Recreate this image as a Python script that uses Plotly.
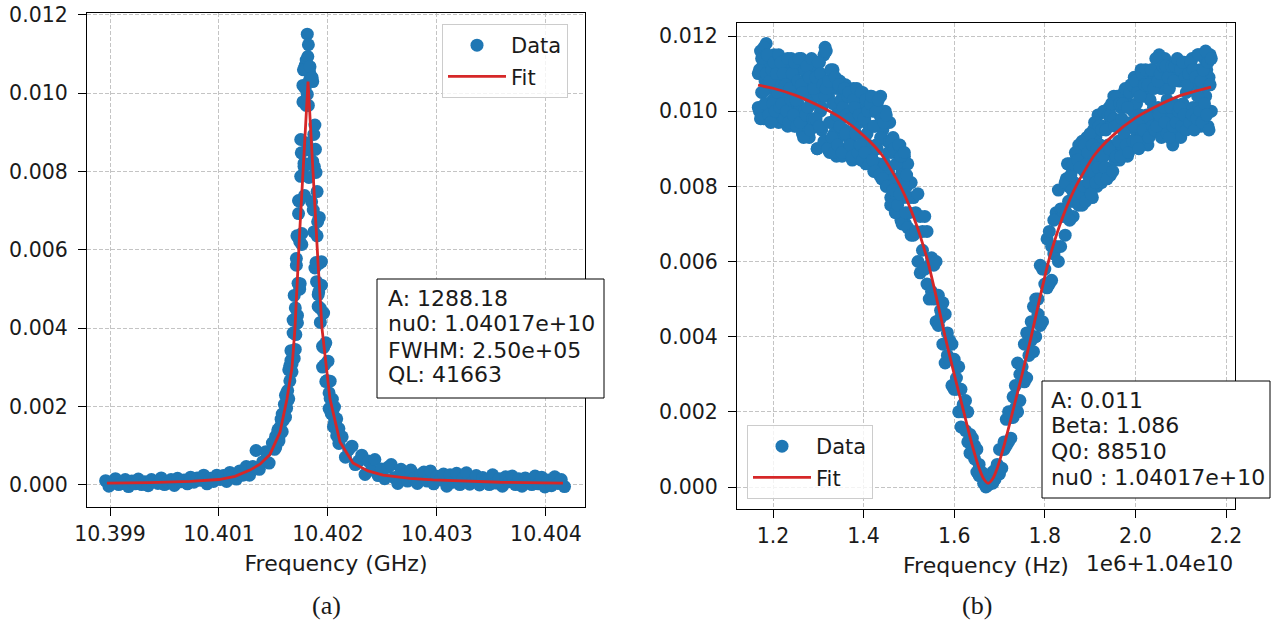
import plotly.graph_objects as go

# ---------------- panel (a): transmission peak, frequency in GHz ----------------
# coarse sweep below the resonance
freq_a_low = [
    10.39946, 10.39949, 10.39952, 10.39955, 10.39958, 10.39961, 10.39964, 10.39967, 10.39970, 10.39973,
    10.39976, 10.39979, 10.39982, 10.39985, 10.39988, 10.39991, 10.39994, 10.39997, 10.40000, 10.40003,
    10.40006, 10.40009, 10.40012, 10.40015, 10.40018, 10.40021, 10.40024, 10.40027, 10.40030, 10.40033,
    10.40036, 10.40039, 10.40042, 10.40045, 10.40048, 10.40051, 10.40054, 10.40057, 10.40060, 10.40063,
    10.40066, 10.40069, 10.40072, 10.40075, 10.40078, 10.40081, 10.40084, 10.40087, 10.40090, 10.40093,
    10.40096, 10.40099,
]
amp_a_low = [
    0.00011, -0.00003, 0.00008, 0.00016, 0.00001, 0.00004, 0.00014, -0.00004, 0.00010, 0.00003,
    0.00015, 0.00001, 0.00008, -0.00002, 0.00014, 0.00009, 0.00004, 0.00018, 0.00001, 0.00008,
    0.00014, -0.00001, 0.00017, 0.00008, 0.00013, 0.00003, 0.00020, 0.00007, 0.00018, 0.00012,
    0.00025, 0.00003, 0.00017, 0.00009, 0.00025, 0.00014, 0.00024, 0.00009, 0.00032, 0.00025,
    0.00015, 0.00036, 0.00025, 0.00047, 0.00025, 0.00047, 0.00088, 0.00040, 0.00059, 0.00085,
    0.00056, 0.00107,
]
# fine sweep across the resonance (two passes)
freq_a_peak = [
    10.40101, 10.40102, 10.40103, 10.40104, 10.40105, 10.40106, 10.40107, 10.40108, 10.40109, 10.40110,
    10.40111, 10.40112, 10.40113, 10.40114, 10.40115, 10.40116, 10.40117, 10.40118, 10.40119, 10.40120,
    10.40121, 10.40122, 10.40123, 10.40124, 10.40125, 10.40126, 10.40127, 10.40128, 10.40129, 10.40130,
    10.40131, 10.40132, 10.40133, 10.40134, 10.40135, 10.40136, 10.40137, 10.40138, 10.40139, 10.40140,
    10.40141, 10.40142, 10.40143, 10.40144, 10.40145, 10.40146, 10.40147, 10.40148, 10.40149, 10.40150,
    10.40151, 10.40152, 10.40153, 10.40154, 10.40155, 10.40156, 10.40157, 10.40158, 10.40159, 10.40160,
]
amp_a_peak_pass1 = [
    0.00113, 0.00096, 0.00122, 0.00141, 0.00121, 0.00141, 0.00168, 0.00136, 0.00182, 0.00179,
    0.00229, 0.00196, 0.00241, 0.00220, 0.00305, 0.00318, 0.00309, 0.00421, 0.00323, 0.00452,
    0.00561, 0.00414, 0.00726, 0.00622, 0.00788, 0.00614, 0.01020, 0.00813, 0.01071, 0.00969,
    0.01151, 0.01124, 0.01054, 0.00855, 0.01040, 0.00826, 0.00895, 0.00554, 0.00798, 0.00636,
    0.00456, 0.00566, 0.00415, 0.00510, 0.00301, 0.00351, 0.00358, 0.00264, 0.00266, 0.00265,
    0.00195, 0.00221, 0.00182, 0.00197, 0.00149, 0.00160, 0.00162, 0.00126, 0.00137, 0.00106,
]
amp_a_peak_pass2 = [
    0.00091, 0.00124, 0.00109, 0.00134, 0.00112, 0.00148, 0.00135, 0.00181, 0.00165, 0.00206,
    0.00173, 0.00235, 0.00215, 0.00294, 0.00266, 0.00343, 0.00289, 0.00388, 0.00484, 0.00346,
    0.00578, 0.00433, 0.00693, 0.00500, 0.00882, 0.00642, 0.00978, 0.00821, 0.01013, 0.01085,
    0.00997, 0.00969, 0.01033, 0.01045, 0.00723, 0.01030, 0.00646, 0.00919, 0.00568, 0.00749,
    0.00486, 0.00683, 0.00451, 0.00570, 0.00354, 0.00439, 0.00307, 0.00363, 0.00266, 0.00316,
    0.00235, 0.00265, 0.00197, 0.00219, 0.00177, 0.00199, 0.00144, 0.00169, 0.00133, 0.00144,
]
# extra points between the fine-sweep steps at the top of the peak
freq_a_peak_mid = [
    10.401205, 10.401215, 10.401225, 10.401235, 10.401245, 10.401255, 10.401265, 10.401275, 10.401285, 10.401295,
    10.401305, 10.401315, 10.401325, 10.401335, 10.401345, 10.401355, 10.401365, 10.401375, 10.401385, 10.401395,
    10.401405, 10.401415,
]
amp_a_peak_mid = [
    0.00384, 0.00636, 0.00515, 0.00725, 0.00514, 0.00848, 0.00790, 0.01060, 0.00739, 0.01060,
    0.00873, 0.01094, 0.00785, 0.01068, 0.00853, 0.01040, 0.00702, 0.00813, 0.00857, 0.00519,
    0.00672, 0.00493,
]
# coarse sweep above the resonance
freq_a_high = [
    10.40163, 10.40166, 10.40169, 10.40172, 10.40175, 10.40178, 10.40181, 10.40184, 10.40187, 10.40190,
    10.40193, 10.40196, 10.40199, 10.40202, 10.40205, 10.40208, 10.40211, 10.40214, 10.40217, 10.40220,
    10.40223, 10.40226, 10.40229, 10.40232, 10.40235, 10.40238, 10.40241, 10.40244, 10.40247, 10.40250,
    10.40253, 10.40256, 10.40259, 10.40262, 10.40265, 10.40268, 10.40271, 10.40274, 10.40277, 10.40280,
    10.40283, 10.40286, 10.40289, 10.40292, 10.40295, 10.40298, 10.40301, 10.40304, 10.40307, 10.40310,
    10.40313, 10.40316, 10.40319, 10.40322, 10.40325, 10.40328, 10.40331, 10.40334, 10.40337, 10.40340,
    10.40343, 10.40346, 10.40349, 10.40352, 10.40355, 10.40358, 10.40361, 10.40364, 10.40367,
]
amp_a_high = [
    0.00123, 0.00071, 0.00090, 0.00099, 0.00052, 0.00061, 0.00076, 0.00027, 0.00061, 0.00038,
    0.00065, 0.00024, 0.00041, 0.00016, 0.00045, 0.00052, 0.00019, 0.00004, 0.00040, 0.00026,
    0.00010, 0.00038, 0.00017, 0.00004, 0.00027, 0.00033, 0.00010, 0.00036, 0.00003, 0.00022,
    0.00014, 0.00028, -0.00003, 0.00026, 0.00007, 0.00030, 0.00001, 0.00017, 0.00031, 0.00002,
    0.00008, 0.00024, 0.00000, 0.00019, 0.00012, 0.00001, 0.00026, 0.00005, 0.00016, -0.00003,
    0.00021, 0.00008, 0.00023, 0.00001, 0.00016, -0.00003, 0.00018, 0.00011, 0.00001, 0.00023,
    0.00003, 0.00020, -0.00005, 0.00013, -0.00002, 0.00021, 0.00004, 0.00014, -0.00004,
]
fit_a_freq_ghz = [
    10.399472, 10.399867, 10.400234, 10.400500, 10.400647, 10.400784, 10.400876, 10.400968,
    10.401060, 10.401124, 10.401170, 10.401197, 10.401243, 10.401317, 10.401408, 10.401445,
    10.401518, 10.401610, 10.401729, 10.401867, 10.402005, 10.402252, 10.402463, 10.403078,
    10.403656,
]
fit_a_amp = [
    0.00005, 0.00006, 0.00009, 0.00014, 0.00022, 0.00038, 0.00053, 0.00078,
    0.00135, 0.00220, 0.00300, 0.00400, 0.00660, 0.01030, 0.00570, 0.00400,
    0.00220, 0.00110, 0.00056, 0.00036, 0.00025, 0.00017, 0.00013, 0.00007,
    0.00005,
]
tick_a_vals = [10.3995, 10.4005, 10.4015, 10.4025, 10.4035]
tick_a_text = ["10.399", "10.401", "10.402", "10.403", "10.404"]
params_a = ["A: 1288.18", "nu0: 1.04017e+10", "FWHM: 2.50e+05", "QL: 41663"]

# ---------------- panel (b): reflection dip, frequency in MHz above 1.04e10 Hz ----------------
freq_b_mhz = [
    1.1675, 1.1700, 1.1725, 1.1750, 1.1775, 1.1800, 1.1825, 1.1850, 1.1875, 1.1900,
    1.1925, 1.1950, 1.1975, 1.2000, 1.2025, 1.2050, 1.2075, 1.2100, 1.2125, 1.2150,
    1.2175, 1.2200, 1.2225, 1.2250, 1.2275, 1.2300, 1.2325, 1.2350, 1.2375, 1.2400,
    1.2425, 1.2450, 1.2475, 1.2500, 1.2525, 1.2550, 1.2575, 1.2600, 1.2625, 1.2650,
    1.2675, 1.2700, 1.2725, 1.2750, 1.2775, 1.2800, 1.2825, 1.2850, 1.2875, 1.2900,
    1.2925, 1.2950, 1.2975, 1.3000, 1.3025, 1.3050, 1.3075, 1.3100, 1.3125, 1.3150,
    1.3175, 1.3200, 1.3225, 1.3250, 1.3275, 1.3300, 1.3325, 1.3350, 1.3375, 1.3400,
    1.3425, 1.3450, 1.3475, 1.3500, 1.3525, 1.3550, 1.3575, 1.3600, 1.3625, 1.3650,
    1.3675, 1.3700, 1.3725, 1.3750, 1.3775, 1.3800, 1.3825, 1.3850, 1.3875, 1.3900,
    1.3925, 1.3950, 1.3975, 1.4000, 1.4025, 1.4050, 1.4075, 1.4100, 1.4125, 1.4150,
    1.4175, 1.4200, 1.4225, 1.4250, 1.4275, 1.4300, 1.4325, 1.4350, 1.4375, 1.4400,
    1.4425, 1.4450, 1.4475, 1.4500, 1.4525, 1.4550, 1.4575, 1.4600, 1.4625, 1.4650,
    1.4675, 1.4700, 1.4725, 1.4750, 1.4775, 1.4800, 1.4825, 1.4850, 1.4875, 1.4900,
    1.4925, 1.4950, 1.4975, 1.5000,
    1.505, 1.510, 1.515, 1.520, 1.525, 1.530, 1.535, 1.540, 1.545, 1.550,
    1.555, 1.560, 1.565, 1.570, 1.575, 1.580, 1.585, 1.590, 1.595, 1.600,
    1.605, 1.610, 1.615, 1.620, 1.625, 1.630, 1.635, 1.640, 1.645, 1.650,
    1.655, 1.660, 1.665, 1.670, 1.675, 1.680, 1.685, 1.690, 1.695, 1.700,
    1.705, 1.710, 1.715, 1.720, 1.725, 1.730, 1.735, 1.740, 1.745, 1.750,
    1.755, 1.760, 1.765, 1.770, 1.775, 1.780, 1.785, 1.790, 1.795, 1.800,
    1.805, 1.810, 1.815, 1.820, 1.825, 1.830, 1.835, 1.840, 1.845,
    1.8475, 1.8500, 1.8525, 1.8550, 1.8575, 1.8600, 1.8625, 1.8650, 1.8675, 1.8700,
    1.8725, 1.8750, 1.8775, 1.8800, 1.8825, 1.8850, 1.8875, 1.8900, 1.8925, 1.8950,
    1.8975, 1.9000, 1.9025, 1.9050, 1.9075, 1.9100, 1.9125, 1.9150, 1.9175, 1.9200,
    1.9225, 1.9250, 1.9275, 1.9300, 1.9325, 1.9350, 1.9375, 1.9400, 1.9425, 1.9450,
    1.9475, 1.9500, 1.9525, 1.9550, 1.9575, 1.9600, 1.9625, 1.9650, 1.9675, 1.9700,
    1.9725, 1.9750, 1.9775, 1.9800, 1.9825, 1.9850, 1.9875, 1.9900, 1.9925, 1.9950,
    1.9975, 2.0000, 2.0025, 2.0050, 2.0075, 2.0100, 2.0125, 2.0150, 2.0175, 2.0200,
    2.0225, 2.0250, 2.0275, 2.0300, 2.0325, 2.0350, 2.0375, 2.0400, 2.0425, 2.0450,
    2.0475, 2.0500, 2.0525, 2.0550, 2.0575, 2.0600, 2.0625, 2.0650, 2.0675, 2.0700,
    2.0725, 2.0750, 2.0775, 2.0800, 2.0825, 2.0850, 2.0875, 2.0900, 2.0925, 2.0950,
    2.0975, 2.1000, 2.1025, 2.1050, 2.1075, 2.1100, 2.1125, 2.1150, 2.1175, 2.1200,
    2.1225, 2.1250, 2.1275, 2.1300, 2.1325, 2.1350, 2.1375, 2.1400, 2.1425, 2.1450,
    2.1475, 2.1500, 2.1525, 2.1550, 2.1575, 2.1600, 2.1625, 2.1650, 2.1675,
]
# first sweep over the grid above
amp_b_sweep1 = [
    0.0110, 0.0100, 0.0116, 0.0105, 0.0112, 0.0098, 0.0108, 0.0118, 0.0102, 0.0106,
    0.0112, 0.0098, 0.0110, 0.0103, 0.0115, 0.0100, 0.0106, 0.0113, 0.0097, 0.0108,
    0.0101, 0.0113, 0.0098, 0.0108, 0.0104, 0.0111, 0.0096, 0.0110, 0.0102, 0.0114,
    0.0098, 0.0105, 0.0096, 0.0108, 0.0111, 0.0102, 0.0099, 0.0106, 0.0114, 0.0094,
    0.0108, 0.0100, 0.0113, 0.0096, 0.0104, 0.0093, 0.0110, 0.0102, 0.0106, 0.0097,
    0.0111, 0.0098, 0.0090, 0.0104, 0.0113, 0.0100, 0.0095, 0.0108, 0.0115, 0.0117,
    0.0116, 0.0092, 0.0104, 0.0089, 0.0108, 0.0097, 0.0111, 0.0094, 0.0102, 0.0088,
    0.0106, 0.0093, 0.0108, 0.0098, 0.0088, 0.0103, 0.0095, 0.0107, 0.0090, 0.0100,
    0.0105, 0.0092, 0.0099, 0.0087, 0.0106, 0.0095, 0.0102, 0.0089, 0.0104, 0.0097,
    0.0101, 0.0087, 0.0105, 0.0093, 0.0098, 0.0086, 0.0103, 0.0091, 0.0096, 0.0104,
    0.0088, 0.0100, 0.0084, 0.0096, 0.0091, 0.0102, 0.0086, 0.0099, 0.0104, 0.0082,
    0.0095, 0.0086, 0.0100, 0.0080, 0.0092, 0.0084, 0.0097, 0.0077, 0.0089, 0.0093,
    0.0082, 0.0090, 0.0074, 0.0086, 0.0079, 0.0091, 0.0071, 0.0084, 0.0077, 0.0088,
    0.0070, 0.0080, 0.0086, 0.0073,
    0.0081, 0.0067, 0.0073, 0.0060, 0.0072, 0.0063, 0.0072, 0.0054, 0.0059, 0.0052,
    0.0059, 0.0044, 0.0051, 0.0045, 0.0038, 0.0046, 0.0035, 0.0039, 0.0038, 0.0026,
    0.0029, 0.0020, 0.0026, 0.0020, 0.0023, 0.0012, 0.0014, 0.0010, 0.0011, 0.0004,
    0.0006, 0.00035, 0.0001, 0.0003, 0.00005, 0.00025, 0.0004, 0.0002, 0.0006, 0.00035,
    0.0010, 0.0010, 0.0018, 0.0012, 0.00185, 0.00185, 0.0027, 0.0020, 0.0030, 0.0030,
    0.0028, 0.0041, 0.0035, 0.0044, 0.0048, 0.0040, 0.0050, 0.0043, 0.0058, 0.0054,
    0.0066, 0.0054, 0.0064, 0.0062, 0.0073, 0.0060, 0.0074, 0.0072, 0.0067,
    0.0082, 0.0072, 0.0080, 0.0086, 0.0076, 0.0085, 0.0072, 0.0081, 0.0076, 0.0088,
    0.0080, 0.0091, 0.0076, 0.0086, 0.0075, 0.0089, 0.0084, 0.0080, 0.0093, 0.0083,
    0.0092, 0.0080, 0.0089, 0.0077, 0.0095, 0.0087, 0.0093, 0.0080, 0.0099, 0.0085,
    0.0091, 0.0081, 0.0096, 0.0088, 0.0100, 0.0085, 0.0096, 0.0091, 0.0101, 0.0083,
    0.0097, 0.0089, 0.0104, 0.0087, 0.0097, 0.0091, 0.0102, 0.0087, 0.0101, 0.0096,
    0.0090, 0.0105, 0.0095, 0.0103, 0.0088, 0.0102, 0.0092, 0.0107, 0.0096, 0.0100,
    0.0109, 0.0095, 0.0102, 0.0091, 0.0106, 0.0099, 0.0111, 0.0094, 0.0104, 0.0092,
    0.0096, 0.0109, 0.0091, 0.0106, 0.0103, 0.0095, 0.0111, 0.0101, 0.0109, 0.0095,
    0.0110, 0.0101, 0.0115, 0.0094, 0.0106, 0.0097, 0.0108, 0.0114, 0.0099, 0.0103,
    0.0094, 0.0106, 0.0110, 0.0098, 0.0091, 0.0102, 0.0094, 0.0109, 0.0101, 0.0112,
    0.0108, 0.0093, 0.0110, 0.0102, 0.0113, 0.0096, 0.0105, 0.0111, 0.0099, 0.0107,
    0.0098, 0.0114, 0.0101, 0.0110, 0.0096, 0.0107, 0.0115, 0.0101, 0.0111, 0.0096,
    0.0107, 0.0098, 0.0114, 0.0104, 0.0111, 0.0096, 0.0109, 0.0115, 0.0100,
]
# second sweep over the same grid
amp_b_sweep2 = [
    0.0101, 0.0111, 0.0098, 0.0114, 0.0105, 0.0117, 0.0102, 0.0110, 0.0115, 0.0099,
    0.0108, 0.0097, 0.0111, 0.0102, 0.0113, 0.0100, 0.0110, 0.0105, 0.0115, 0.0101,
    0.0113, 0.0102, 0.0110, 0.0098, 0.0107, 0.0100, 0.0114, 0.0097, 0.0106, 0.0103,
    0.0110, 0.0099, 0.0113, 0.0103, 0.0096, 0.0108, 0.0114, 0.0097, 0.0107, 0.0105,
    0.0093, 0.0111, 0.0099, 0.0112, 0.0101, 0.0109, 0.0095, 0.0114, 0.0098, 0.0106,
    0.0098, 0.0109, 0.0090, 0.0113, 0.0096, 0.0110, 0.0101, 0.0107, 0.0092, 0.0104,
    0.0106, 0.0090, 0.0108, 0.0097, 0.0111, 0.0093, 0.0102, 0.0089, 0.0109, 0.0099,
    0.0091, 0.0107, 0.0096, 0.0103, 0.0089, 0.0101, 0.0106, 0.0094, 0.0099, 0.0104,
    0.0105, 0.0091, 0.0098, 0.0088, 0.0103, 0.0101, 0.0094, 0.0106, 0.0089, 0.0099,
    0.0091, 0.0105, 0.0087, 0.0098, 0.0089, 0.0103, 0.0094, 0.0100, 0.0086, 0.0102,
    0.0104, 0.0087, 0.0096, 0.0084, 0.0100, 0.0090, 0.0103, 0.0083, 0.0093, 0.0098,
    0.0082, 0.0097, 0.0086, 0.0099, 0.0080, 0.0089, 0.0092, 0.0075, 0.0092, 0.0079,
    0.0090, 0.0073, 0.0086, 0.0075, 0.0091, 0.0078, 0.0088, 0.0070, 0.0081, 0.0089,
    0.0073, 0.0083, 0.0069, 0.0077,
    0.0067, 0.0077, 0.0068, 0.0078, 0.0057, 0.0068, 0.0058, 0.0068, 0.0050, 0.0061,
    0.0050, 0.0060, 0.0043, 0.0047, 0.0049, 0.0033, 0.0041, 0.0034, 0.0027, 0.0034,
    0.0026, 0.0032, 0.0016, 0.0022, 0.0015, 0.0020, 0.0009, 0.0013, 0.00075, 0.0010,
    0.0003, 0.0004, 0.00035, 0.0000, 0.0002, 0.00015, 0.0001, 0.00045, 0.0004, 0.0010,
    0.0005, 0.0012, 0.0011, 0.0020, 0.0013, 0.0024, 0.0021, 0.0033, 0.0023, 0.0032,
    0.0038, 0.0029, 0.0041, 0.0039, 0.0036, 0.0050, 0.0046, 0.0059, 0.0044, 0.0058,
    0.0053, 0.0068, 0.0055, 0.0071, 0.0064, 0.0079, 0.0064, 0.0074, 0.0081,
    0.0073, 0.0086, 0.0076, 0.0071, 0.0083, 0.0079, 0.0086, 0.0076, 0.0089, 0.0080,
    0.0087, 0.0075, 0.0085, 0.0078, 0.0092, 0.0080, 0.0091, 0.0076, 0.0086, 0.0089,
    0.0081, 0.0094, 0.0078, 0.0091, 0.0084, 0.0097, 0.0081, 0.0090, 0.0085, 0.0096,
    0.0082, 0.0095, 0.0088, 0.0100, 0.0085, 0.0095, 0.0082, 0.0099, 0.0090, 0.0099,
    0.0102, 0.0084, 0.0098, 0.0096, 0.0088, 0.0104, 0.0092, 0.0102, 0.0088, 0.0098,
    0.0102, 0.0094, 0.0106, 0.0091, 0.0101, 0.0089, 0.0105, 0.0097, 0.0107, 0.0092,
    0.0096, 0.0108, 0.0092, 0.0105, 0.0090, 0.0104, 0.0098, 0.0110, 0.0095, 0.0107,
    0.0111, 0.0099, 0.0107, 0.0093, 0.0098, 0.0111, 0.0096, 0.0106, 0.0095, 0.0114,
    0.0096, 0.0108, 0.0099, 0.0110, 0.0093, 0.0112, 0.0101, 0.0097, 0.0112, 0.0094,
    0.0109, 0.0093, 0.0101, 0.0112, 0.0096, 0.0108, 0.0112, 0.0097, 0.0114, 0.0100,
    0.0101, 0.0111, 0.0096, 0.0113, 0.0099, 0.0109, 0.0095, 0.0107, 0.0110, 0.0097,
    0.0113, 0.0099, 0.0111, 0.0095, 0.0109, 0.0098, 0.0104, 0.0115, 0.0100, 0.0108,
    0.0097, 0.0111, 0.0102, 0.0116, 0.0099, 0.0113, 0.0095, 0.0107, 0.0114,
]
fit_b_freq_mhz = [
    1.167, 1.20, 1.25, 1.30, 1.35, 1.40, 1.44, 1.48, 1.51, 1.54, 1.56, 1.58, 1.60, 1.62,
    1.64, 1.655, 1.665, 1.675, 1.685, 1.695, 1.71, 1.73, 1.75, 1.77, 1.79, 1.81, 1.84,
    1.87, 1.91, 1.95, 2.00, 2.05, 2.10, 2.167,
]
fit_b_amp = [
    0.01069, 0.01061, 0.01042, 0.01015, 0.00982, 0.00935, 0.00884, 0.00803, 0.00720, 0.00608,
    0.00508, 0.00400, 0.00300, 0.00205, 0.00110, 0.00050, 0.00022, 0.00010, 0.00022, 0.00050,
    0.00110, 0.00205, 0.00300, 0.00400, 0.00508, 0.00608, 0.00720, 0.00803, 0.00884, 0.00935,
    0.00982, 0.01015, 0.01042, 0.01064,
]
tick_b_vals = [1.2, 1.4, 1.6, 1.8, 2.0, 2.2]
params_b = ["A: 0.011", "Beta: 1.086", "Q0: 88510", "nu0 : 1.04017e+10"]

amp_ticks = [0.000, 0.002, 0.004, 0.006, 0.008, 0.010, 0.012]

for xs, ys in ((freq_a_low, amp_a_low), (freq_a_peak, amp_a_peak_pass1),
               (freq_a_peak, amp_a_peak_pass2), (freq_a_peak_mid, amp_a_peak_mid),
               (freq_a_high, amp_a_high), (fit_a_freq_ghz, fit_a_amp),
               (freq_b_mhz, amp_b_sweep1), (freq_b_mhz, amp_b_sweep2),
               (fit_b_freq_mhz, fit_b_amp)):
    if len(xs) != len(ys):
        raise ValueError(f"length mismatch: {len(xs)} vs {len(ys)}")

data_a_x = freq_a_low + freq_a_peak + freq_a_peak + freq_a_peak_mid + freq_a_high
data_a_y = amp_a_low + amp_a_peak_pass1 + amp_a_peak_pass2 + amp_a_peak_mid + amp_a_high
data_b_x = freq_b_mhz + freq_b_mhz
data_b_y = amp_b_sweep1 + amp_b_sweep2

# ---------------- styling ----------------
W, H = 1271, 626
BLUE = "#1f77b4"
RED = "#d62728"
INK = "#1a1a1a"
SANS = "DejaVu Sans"
MARKER = 13


def px_x(p):
    return p / W


def px_y(p):
    return 1 - p / H


axis_style = dict(
    showline=True, mirror=True, linecolor="#000000", linewidth=1.2,
    ticks="outside", ticklen=8, tickwidth=1.2, tickcolor="#000000",
    showgrid=True, gridcolor="#c4c4c4", gridwidth=0.8, griddash="4px,2px",
    zeroline=False, automargin=False,
    tickfont=dict(family=SANS, size=20.5, color=INK),
)
title_font = dict(family=SANS, size=22, color=INK)

fig = go.Figure()

fig.add_trace(go.Scatter(
    x=data_a_x, y=data_a_y, mode="markers", name="Data",
    marker=dict(color=BLUE, size=MARKER, line=dict(width=0)),
    xaxis="x", yaxis="y", legend="legend", legendgroup="a1",
))
fig.add_trace(go.Scatter(
    x=fit_a_freq_ghz, y=fit_a_amp, mode="lines", name="Fit",
    line=dict(color=RED, width=2.8),
    xaxis="x", yaxis="y", legend="legend", legendgroup="a2",
))
fig.add_trace(go.Scatter(
    x=data_b_x, y=data_b_y, mode="markers", name="Data",
    marker=dict(color=BLUE, size=MARKER, line=dict(width=0)),
    xaxis="x2", yaxis="y2", legend="legend2", legendgroup="b1",
))
fig.add_trace(go.Scatter(
    x=fit_b_freq_mhz, y=fit_b_amp, mode="lines", name="Fit",
    line=dict(color=RED, width=2.8, shape="spline", smoothing=0.6),
    xaxis="x2", yaxis="y2", legend="legend2", legendgroup="b2",
))

legend_style = dict(
    xanchor="left", yanchor="top",
    bgcolor="rgba(255,255,255,0.8)", bordercolor="#cccccc", borderwidth=1,
    font=dict(family=SANS, size=21, color=INK), tracegroupgap=1, itemwidth=58,
)

fig.update_layout(
    width=W, height=H,
    margin=dict(l=0, r=0, t=0, b=0, autoexpand=False),
    paper_bgcolor="white", plot_bgcolor="white",
    showlegend=True,
    xaxis=dict(
        axis_style, domain=[px_x(87), px_x(585)], range=[10.399289, 10.403858],
        tickvals=tick_a_vals, ticktext=tick_a_text, anchor="y", ticklabelstandoff=0,
        title=dict(text="Frequency (GHz)", font=title_font, standoff=10),
    ),
    yaxis=dict(
        axis_style, domain=[px_y(507), px_y(13)], range=[-0.000562, 0.01205],
        tickvals=amp_ticks, tickformat=".3f", anchor="x", ticklabelstandoff=6,
    ),
    xaxis2=dict(
        axis_style, domain=[px_x(737), px_x(1235)], range=[1.12053, 2.21987],
        tickvals=tick_b_vals, tickformat=".1f", anchor="y2", ticklabelstandoff=0,
        title=dict(text="Frequency (Hz)", font=title_font, standoff=10),
    ),
    yaxis2=dict(
        axis_style, domain=[px_y(509), px_y(23)], range=[-0.000585, 0.012346],
        tickvals=amp_ticks, tickformat=".3f", anchor="x2", ticklabelstandoff=6,
    ),
    legend=dict(legend_style, x=px_x(442), y=px_y(24)),
    legend2=dict(legend_style, x=px_x(747), y=px_y(425)),
)

# parameter boxes: framed white rectangle with one text line per parameter
boxes = (
    (params_a, (377, 279, 604, 398), 386, (298, 324, 350, 375)),
    (params_b, (1042, 381, 1270, 498), 1049, (400, 425, 451, 477)),
)
for lines, (bx0, by0, bx1, by1), tx, line_ys in boxes:
    fig.add_shape(
        type="rect", xref="paper", yref="paper", layer="above",
        x0=px_x(bx0), x1=px_x(bx1), y0=px_y(by1), y1=px_y(by0),
        line=dict(color="#000000", width=1), fillcolor="white",
    )
    for text, ty in zip(lines, line_ys):
        fig.add_annotation(
            xref="paper", yref="paper", x=px_x(tx), y=px_y(ty),
            xanchor="left", yanchor="middle", text=text, showarrow=False,
            font=dict(family=SANS, size=22, color=INK),
        )

# offset text of the right-hand frequency axis
fig.add_annotation(
    xref="paper", yref="paper", x=px_x(1235), y=px_y(563), xanchor="right", yanchor="middle",
    text="1e6+1.04e10", showarrow=False, font=dict(family=SANS, size=21.5, color=INK),
)

# sub-figure captions
for label, cx in (("(a)", 326), ("(b)", 977)):
    fig.add_annotation(
        xref="paper", yref="paper", x=px_x(cx), y=px_y(605), xanchor="center", yanchor="middle",
        text=label, showarrow=False, font=dict(family="Liberation Serif", size=26, color=INK),
    )

fig.write_html("out.html")
